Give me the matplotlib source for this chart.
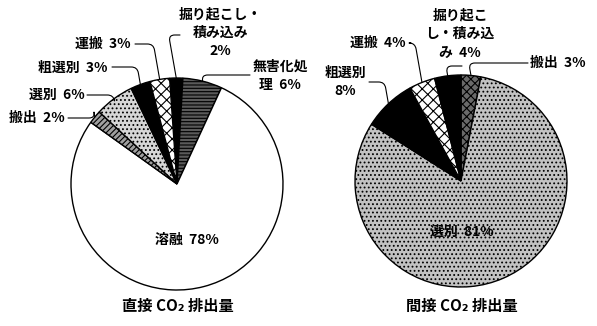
import numpy as np
import matplotlib
matplotlib.use("Agg")
import matplotlib.pyplot as plt

plt.rcParams['font.family'] = ['Noto Sans CJK JP', 'DejaVu Sans']
plt.rcParams['hatch.color'] = 'black'
plt.rcParams['hatch.linewidth'] = 0.8

# ---- data ----
direct_labels = ['掘り起こし・\n積み込み\n2%', '無害化処\n理  6%', '溶融  78%', '搬出  2%',
                 '選別  6%', '粗選別  3%', '運搬  3%']
direct_values = [2, 6, 78, 2, 6, 3, 3]

indirect_labels = ['搬出  3%', '選別  81%', '粗選別\n8%', '運搬  4%', '掘り起こ\nし・積み込\nみ  4%']
indirect_values = [3, 81, 8, 4, 4]

titles = ['直接 CO₂ 排出量', '間接 CO₂ 排出量']

# ---- styles ----
direct_faces = ['black', '#5a5a5a', 'white', '#a0a0a0', '#d6d6d6', 'black', 'white']
direct_hatch = ['', '-----', '', '//////', '....', '', 'xxx']
indirect_faces = ['#6a6a6a', '#c2c2c2', 'black', 'white', 'black']
indirect_hatch = ['xxxx', '....', '', 'xxx', '', ]

W, H = 597, 326
fig = plt.figure(figsize=(W / 100, H / 100), dpi=100)
ax = fig.add_axes([0, 0, 1, 1])


def P(x, y):
    return (x, H - y)


R = 106
cL = P(177, 184)
cR = P(461, 181)

wL, _ = ax.pie(direct_values, center=cL, radius=R, startangle=94, counterclock=False,
               colors=direct_faces, hatch=direct_hatch,
               wedgeprops=dict(edgecolor='black', linewidth=1.0))
wR, _ = ax.pie(indirect_values, center=cR, radius=R, startangle=90, counterclock=False,
               colors=indirect_faces, hatch=indirect_hatch,
               wedgeprops=dict(edgecolor='black', linewidth=1.0))


def anchor(w, c, f=1.0):
    t = np.deg2rad((w.theta1 + w.theta2) / 2)
    return (c[0] + f * R * np.cos(t), c[1] + f * R * np.sin(t))


fs = 10
tkw = dict(fontsize=fs, fontweight='bold', linespacing=1.4)

# direct pie labels: text centre, leader start
dl = {
    0: ((220, 33), (180, 35)),
    1: ((280, 76), (250, 75)),
    3: ((37, 118), (68, 118)),
    4: ((57, 95), (87, 95)),
    5: ((73, 68), (112, 67)),
    6: ((103, 44), (135, 44)),
}
for i, (tp, ls) in dl.items():
    ax.text(*P(*tp), direct_labels[i], ha='center', va='center', **tkw)
    ax.annotate('', xy=anchor(wL[i], cL), xytext=P(*ls),
                arrowprops=dict(arrowstyle='-', lw=0.8, color='black',
                                connectionstyle='angle,angleA=0,angleB=100,rad=6',
                                shrinkA=0, shrinkB=0))
ax.text(*P(187, 240), direct_labels[2], ha='center', va='center', **tkw)

il = {
    0: ((558, 63), (528, 63)),
    2: ((345, 82), (369, 82)),
    3: ((378, 43), (411, 43)),
    4: ((460, 34), (462, 66)),
}
for i, (tp, ls) in il.items():
    ax.text(*P(*tp), indirect_labels[i], ha='center', va='center', **tkw)
    ax.annotate('', xy=anchor(wR[i], cR), xytext=P(*ls),
                arrowprops=dict(arrowstyle='-', lw=0.8, color='black',
                                connectionstyle='angle,angleA=0,angleB=100,rad=6',
                                shrinkA=0, shrinkB=0))
ax.text(*P(462, 232), indirect_labels[1], ha='center', va='center', **tkw)

ax.text(*P(178, 306), titles[0], ha='center', va='center', fontsize=11, fontweight='bold')
ax.text(*P(462, 306), titles[1], ha='center', va='center', fontsize=11, fontweight='bold')

ax.set_xlim(0, W)
ax.set_ylim(0, H)
ax.set_aspect('equal')
ax.axis('off')
fig.savefig('out.png', dpi=100)
